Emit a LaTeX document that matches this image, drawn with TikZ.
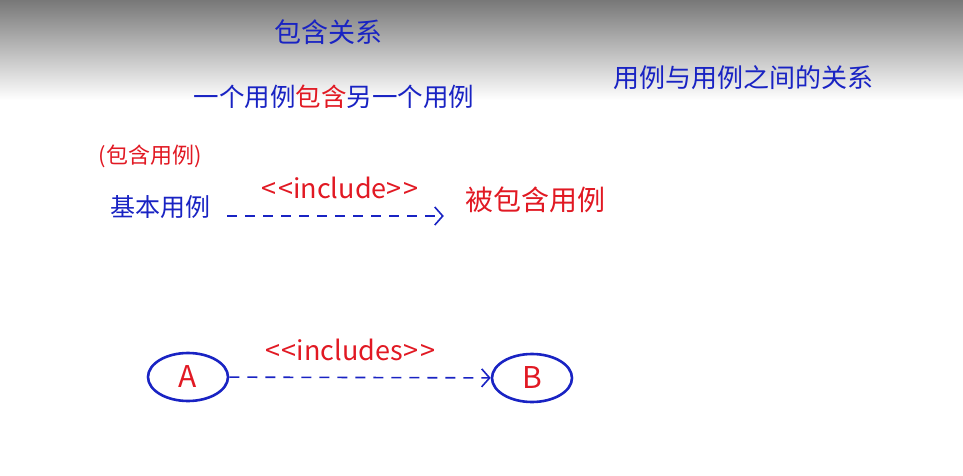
\documentclass[tikz,border=0pt]{standalone}
\usepackage{fontspec}
\setmainfont{Noto Sans CJK SC}
\usepackage{tikz}
\usetikzlibrary{arrows.meta,positioning,shapes.geometric}
\definecolor{penblue}{RGB}{25,35,195}
\definecolor{penred}{RGB}{225,25,35}

\begin{document}
\begin{tikzpicture}[x=1pt, y=-1pt,
    title/.style={font=\fontsize{27}{30}\selectfont, text=penblue},
    bluetext/.style={font=\fontsize{#1}{#1}\selectfont, text=penblue, inner sep=1pt},
    bluetext/.default=24,
    redtext/.style={font=\fontsize{#1}{#1}\selectfont, text=penred, inner sep=1pt},
    redtext/.default=24,
    stereo/.style={font=\fontsize{27}{30}\selectfont, text=penred, inner sep=1pt},
    usecase/.style={
      ellipse, draw=penblue, line width=2.6pt,
      minimum width=80pt, minimum height=48pt,
      font=\fontsize{30}{32}\selectfont, text=penred
    },
    arrow/.style={-{Straight Barb[length=8pt, width=18pt]}, line width=1.6pt,
      draw=penblue, dash pattern=on 10pt off 8pt}
  ]
    \useasboundingbox (0,0) rectangle (963,476);
    \shade[top color=black!53, middle color=black!10, bottom color=white]
      (0,0) rectangle (963,100);
    \node[title] (t0) at (328,32) {包含关系};
    \node[bluetext=25.5] (t1) at (334,97) {一个用例\textcolor{penred}{包含}另一个用例};
    \node[bluetext=26] (t2) at (743,78) {用例与用例之间的关系};
    \node[redtext=22] (inc) at (150,156) {(包含用例)};
    \node[bluetext=25] (base) at (160,207) {基本用例};
    \node[redtext=28] (incd) at (535,200) {被包含用例};
    \node[stereo] (s1) at (340,188) {<\kern2pt<include>\kern2pt>};
    \draw[arrow] (base.east) ++(16,9) coordinate (b1)
      -- ([xshift=-20pt]incd.west |- b1) coordinate (b2);
    \node[usecase] (a) at (188,377) {A};
    \node[usecase] (b) at (532,378) {B};
    \node[stereo] (s2) at (350,350) {<\kern2pt<includes>\kern2pt>};
    \draw[arrow] (a) -- (b);
  \end{tikzpicture}
\end{document}
